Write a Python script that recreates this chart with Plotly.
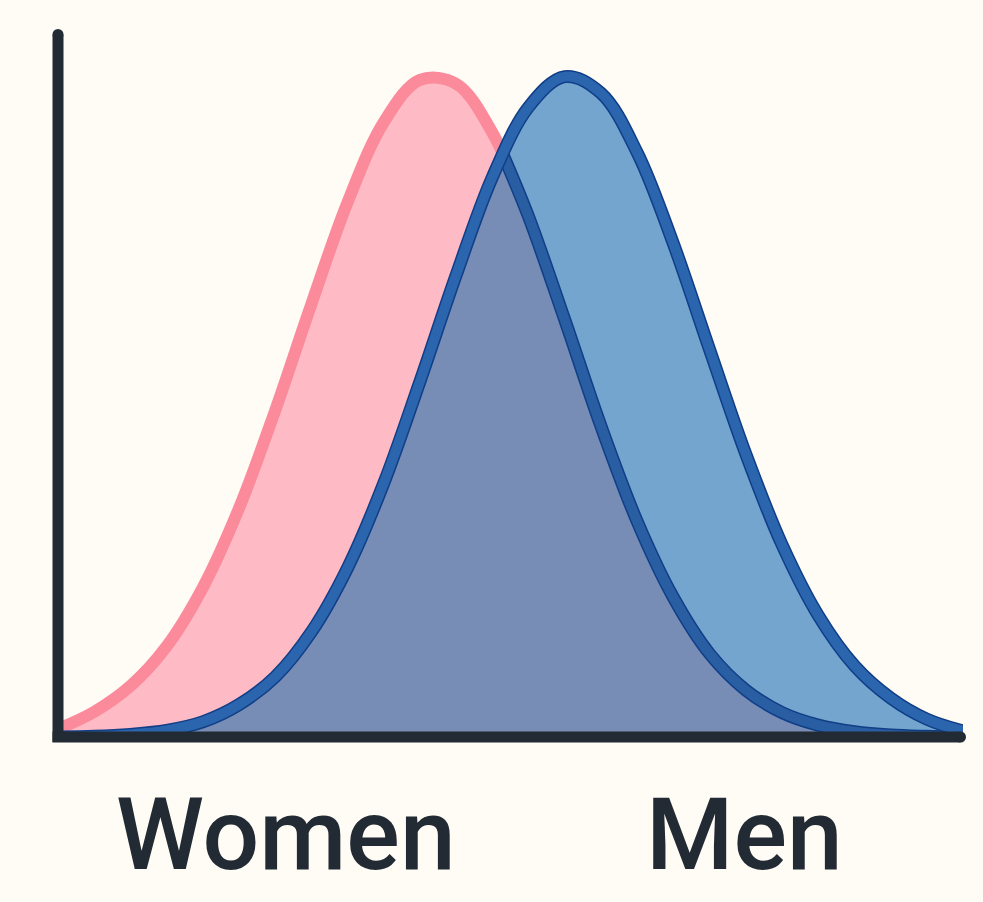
import plotly.graph_objects as go

# ---- data (x: 0..100 along the axis, y: relative height, peak = 1) ----
x_vals = [0, 4, 8, 12, 16, 20, 24, 28, 32, 36, 40, 44, 48, 52, 56, 60, 64, 68, 72, 76, 80, 84, 88, 92, 96, 100]
women = [0.012, 0.038, 0.077, 0.137, 0.226, 0.346, 0.494, 0.655, 0.809, 0.930, 0.994, 0.988, 0.914,
         0.787, 0.631, 0.470, 0.326, 0.211, 0.126, 0.071, 0.037, 0.018, 0.008, 0.003, 0.001, 0.000]
men = [0.000, 0.001, 0.004, 0.010, 0.023, 0.049, 0.091, 0.159, 0.256, 0.384, 0.538, 0.699, 0.847,
       0.953, 0.999, 0.974, 0.884, 0.746, 0.586, 0.428, 0.291, 0.184, 0.108, 0.059, 0.027, 0.009]
cross_x = 49.2
cross_y = 0.88
labels = ["Women", "Men"]

BG = "#fffbf5"
PINK_FILL = "#ffbbc5"
PINK_LINE = "#fb8a9b"
BLUE_FILL = "#74a5cf"
OVER_FILL = "#788db5"
BLUE_LINE = "#2a65ae"
BLUE_EDGE = "#103e87"
AXIS = "#222a33"

# overlap region built from the two series
ov_x = [x for x in x_vals if x < cross_x] + [cross_x] + [x for x in x_vals if x > cross_x]
ov_y = [m for x, m in zip(x_vals, men) if x < cross_x] + [cross_y] + [w for x, w in zip(x_vals, women) if x > cross_x]
wr_x = [cross_x] + [x for x in x_vals if x > cross_x]
wr_y = [cross_y] + [w for x, w in zip(x_vals, women) if x > cross_x]

fig = go.Figure()
sp = dict(shape="spline", smoothing=1)

fig.add_trace(go.Scatter(x=x_vals, y=women, mode="lines", fill="tozeroy", fillcolor=PINK_FILL,
                         line=dict(width=0, **sp)))
fig.add_trace(go.Scatter(x=x_vals, y=women, mode="lines", line=dict(color=PINK_LINE, width=12, **sp)))
fig.add_trace(go.Scatter(x=x_vals, y=men, mode="lines", fill="tozeroy", fillcolor=BLUE_FILL,
                         line=dict(width=0, **sp)))
fig.add_trace(go.Scatter(x=ov_x, y=ov_y, mode="lines", fill="tozeroy", fillcolor=OVER_FILL,
                         line=dict(width=0, **sp)))
# women right side (inside overlap) drawn dark blue
fig.add_trace(go.Scatter(x=wr_x, y=wr_y, mode="lines", line=dict(color=BLUE_EDGE, width=13, **sp)))
fig.add_trace(go.Scatter(x=wr_x, y=wr_y, mode="lines", line=dict(color="#2a5ea2", width=10, **sp)))
# men outline
fig.add_trace(go.Scatter(x=x_vals, y=men, mode="lines", line=dict(color=BLUE_EDGE, width=13, **sp)))
fig.add_trace(go.Scatter(x=x_vals, y=men, mode="lines", line=dict(color=BLUE_LINE, width=10, **sp)))

# axes drawn as thick lines with rounded far ends
shapes = [
    dict(type="line", xref="paper", yref="paper", x0=0, x1=0, y0=-0.00706, y1=0.99223,
         line=dict(color=AXIS, width=11), layer="above"),
    dict(type="circle", xref="paper", yref="paper", x0=-0.00608, x1=0.00608, y0=0.98446, y1=1.0,
         fillcolor=AXIS, line=dict(width=0), layer="above"),
    dict(type="line", xref="paper", yref="paper", x0=-0.00608, x1=0.99724, y0=0, y1=0,
         line=dict(color=AXIS, width=11), layer="above"),
    dict(type="circle", xref="paper", yref="paper", x0=0.99116, x1=1.00331, y0=-0.00777, y1=0.00777,
         fillcolor=AXIS, line=dict(width=0), layer="above"),
]

label_font = dict(family="Roboto", size=100, color=AXIS, weight=500)
annotations = [
    dict(text=labels[0], xref="paper", yref="paper", x=0.2519, y=-0.138, showarrow=False,
         xanchor="center", yanchor="middle", font=label_font),
    dict(text=labels[1], xref="paper", yref="paper", x=0.759, y=-0.138, showarrow=False,
         xanchor="center", yanchor="middle", font=label_font),
]

fig.update_layout(
    width=983, height=902,
    margin=dict(l=58, r=20, t=29, b=165),
    paper_bgcolor=BG, plot_bgcolor=BG,
    showlegend=False, hovermode=False,
    xaxis=dict(range=[0, 100], visible=False, fixedrange=True),
    yaxis=dict(range=[0, 1.071], visible=False, fixedrange=True),
    shapes=shapes, annotations=annotations,
)

fig.write_html("out.html", config={"displayModeBar": False})
